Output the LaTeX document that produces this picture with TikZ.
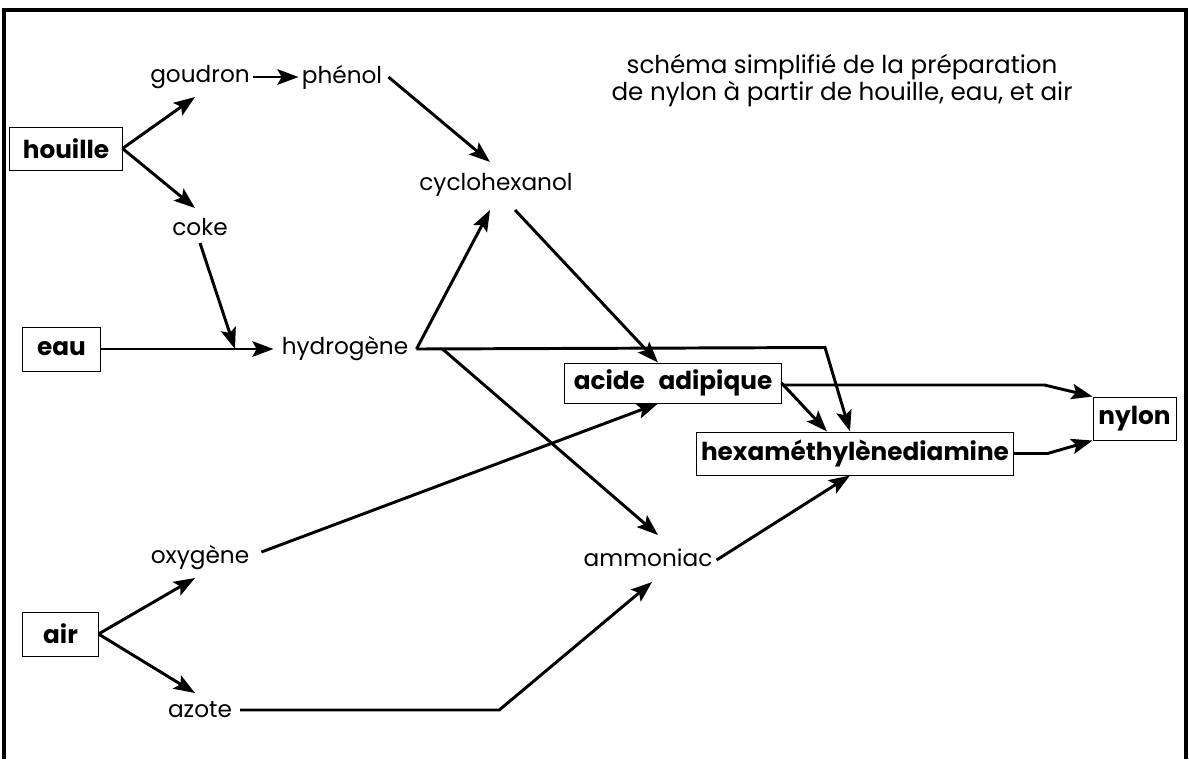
\documentclass[tikz,border=0pt]{standalone}
\usepackage{fontspec}
\setmainfont{Poppins}
\usetikzlibrary{arrows.meta,calc}
\begin{document}
\begin{tikzpicture}[x=0.025cm,y=-0.025cm,
  lbl/.style={font=\fontsize{16.5}{17}\selectfont, inner sep=0pt, anchor=center},
  box/.style={draw, line width=0.7pt, font=\fontsize{17.6}{19}\selectfont\bfseries,
    inner sep=0pt, minimum height=1.075cm},
  arr/.style={line width=2.1pt, -{Stealth[length=15pt,width=11pt,inset=3pt]}},
  frame/.style={line width=2.8pt}]
\useasboundingbox (0,0) rectangle (1189,759);

% outer frame (open at the bottom)
\draw[frame] (4,759) -- (4,10) -- (1186,10) -- (1186,759);

% title
\node[font=\fontsize{17.5}{15}\selectfont, inner sep=0pt, align=center] (title) at (842,81)
  {schéma simplifié de la préparation\\de nylon à partir de houille, eau, et air};

% raw materials
\node[box, minimum width=2.8cm] (houille) at (66,148.5) {houille};
\node[box, minimum width=1.925cm, minimum height=1.1cm] (eau) at (61.5,349) {eau};
\node[box, minimum width=1.875cm, minimum height=1.1cm] (air) at (60.5,634) {air};

% intermediates
\node[lbl] (goudron) at (200,77) {goudron};
\node[lbl] (phenol) at (342,77) {phénol};
\node[lbl] (coke) at (200,227) {coke};
\node[lbl] (hydrogene) at (345,349) {hydrogène};
\node[lbl] (cyclo) at (496,185) {cyclohexanol};
\node[lbl] (oxygene) at (200,558) {oxygène};
\node[lbl] (azote) at (200,710) {azote};
\node[lbl] (ammoniac) at (648,558) {ammoniac};

% products
\node[box, minimum width=5.4cm, minimum height=1.0cm] (acide) at (673,383) {acide\hspace{0.55em}adipique};
\node[box, minimum width=7.9cm] (hexa) at (855,453.5) {hexaméthylènediamine};
\node[box, minimum width=2.075cm] (nylon) at (1134.5,418.5) {nylon};

% junction points
\coordinate (jcoke) at ($(hydrogene)+(-110,0)$);
\coordinate (hapex) at ($(hydrogene.east)+(8,0)$);
\coordinate (hbranch) at ($(hapex)+(26,0)$);

% houille branch
\draw[arr] (houille.east) -- ($(goudron)+(-5,20)$);
\draw[arr] (houille.east) -- ($(coke)+(-5,-19)$);
\draw[arr] ($(goudron.east)+(3,0)$) -- ($(phenol.west)+(-3,0)$);
\draw[arr] ($(phenol.east)+(6,0)$) -- ($(cyclo)+(-6,-23)$);

% eau and coke give hydrogene
\draw[arr] (eau.east) -- ($(hydrogene.west)+(-8,0)$);
\draw[arr] ($(coke)+(0,16)$) -- (jcoke);

% hydrogene uses
\draw[arr] (hapex) -- ($(cyclo)+(-6,25)$);
\draw[arr] (hapex) -- ($(hexa.north)+(-30,-84)$) -- ($(hexa.north)+(-5,0)$);
\draw[arr] (hbranch) -- ($(ammoniac)+(10,-23)$);
\draw[arr] ($(cyclo)+(19,25)$) -- ($(acide.north)+(-15,0)$);

% air branch
\draw[arr] (air.east) -- ($(oxygene)+(-5,20)$);
\draw[arr] (air.east) -- ($(azote)+(-5,-17)$);
\draw[arr] ($(oxygene.east)+(12,-6)$) -- ($(acide.south)+(-15,0)$);
\draw[arr] ($(azote.east)+(8,0)$) -- ++(259,0) -- ($(ammoniac)+(4,24)$);
\draw[arr] ($(ammoniac.east)+(4,2)$) -- ($(hexa.south)+(-5,0)$);

% towards nylon
\draw[arr] (acide.east) -- ($(hexa.north)+(-28,0)$);
\draw[arr] ($(acide.east)+(0,2)$) -- ++(263,0) -- (nylon.north west);
\draw[arr] (hexa.east) -- ++(34,0) -- (nylon.south west);
\end{tikzpicture}
\end{document}
